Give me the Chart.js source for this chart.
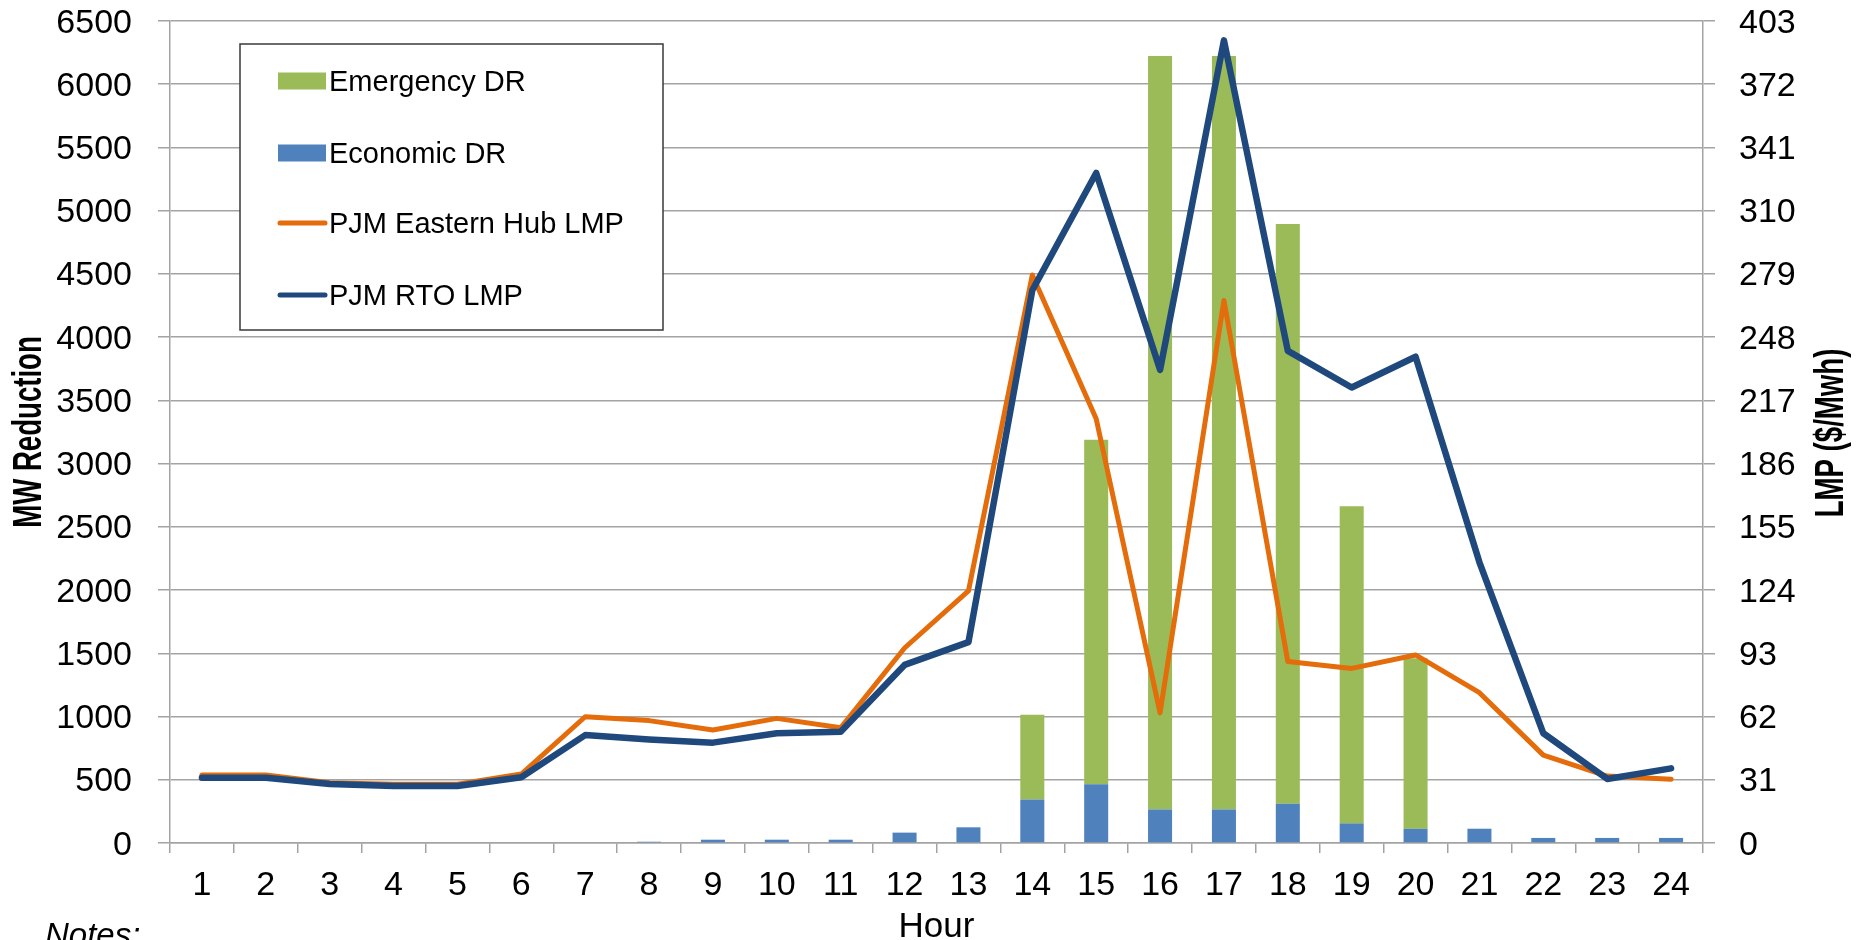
<!DOCTYPE html>
<html>
<head>
<meta charset="utf-8">
<script src="https://cdn.jsdelivr.net/npm/chart.js@4/dist/chart.umd.min.js"></script>
<style>
html,body{margin:0;padding:0;background:#ffffff;overflow:hidden}
#wrap{width:1864px;height:940px;position:relative}
</style>
</head>
<body>
<div id="wrap"><canvas id="c" width="1864" height="940"></canvas></div>
<script>
// ---- data ----
const hours = ['1','2','3','4','5','6','7','8','9','10','11','12','13','14','15','16','17','18','19','20','21','22','23','24'];
const economicDR = [0,0,0,0,0,0,0,10,26,26,26,82,124,343,464,266,266,311,155,113,113,40,40,40];
const emergencyDR = [0,0,0,0,0,0,0,0,0,0,0,0,0,672,2725,5957,5957,4584,2507,1347,0,0,0,0];
const easternHubLMP = [33.3,33.3,29.6,28.8,28.8,33.8,61.9,60.0,55.4,61.1,56.5,95.6,123.6,278.5,208,63.8,266,89.0,85.6,92.2,73.7,43.1,32.8,31.2];
const rtoLMP = [32.0,32.0,28.9,27.9,27.9,32.2,52.9,50.8,49.2,53.8,54.6,87.3,98.5,271,328.5,232,393.5,241.3,223.3,238.4,137.6,53.8,31.4,36.6];
const mwTicks = [0,500,1000,1500,2000,2500,3000,3500,4000,4500,5000,5500,6000,6500];
const lmpTicks = [0,31,62,93,124,155,186,217,248,279,310,341,372,403];

const legendOrder = ['Emergency DR','Economic DR','PJM Eastern Hub LMP','PJM RTO LMP'];

const GRID = '#a3a3a3';
const FONT = '"Liberation Sans", Arial, sans-serif';

function sText(ctx, text, x, y, font, align, baseline, sx) {
  ctx.save();
  ctx.translate(x, y);
  ctx.scale(sx, 1);
  ctx.font = font;
  ctx.textAlign = align;
  ctx.textBaseline = baseline;
  ctx.fillText(text, 0, 0);
  ctx.restore();
}

const decor = {
  id: 'decor',
  afterDraw(chart) {
    const ctx = chart.ctx;
    const a = chart.chartArea;
    ctx.save();
    ctx.fillStyle = '#000';
    const tickFont = '34px ' + FONT;
    // left tick labels
    const ys = chart.scales.y;
    mwTicks.forEach(v => {
      sText(ctx, String(v), 132, ys.getPixelForValue(v) + 11.5, tickFont, 'right', 'alphabetic', 1);
    });
    // right tick labels
    const y2 = chart.scales.y2;
    lmpTicks.forEach(v => {
      sText(ctx, String(v), 1739, y2.getPixelForValue(v) + 11.5, tickFont, 'left', 'alphabetic', 1);
    });
    // x tick labels
    const xs = chart.scales.x;
    hours.forEach((h, i) => {
      sText(ctx, h, xs.getPixelForValue(i), 895, tickFont, 'center', 'alphabetic', 1);
    });

    // rotated axis titles (condensed bold)
    function rotTitle(text, bx, cy) {
      ctx.save();
      ctx.translate(bx, cy);
      ctx.rotate(-Math.PI / 2);
      ctx.scale(0.69, 1);
      ctx.font = 'bold 40px ' + FONT;
      ctx.textAlign = 'center';
      ctx.textBaseline = 'alphabetic';
      ctx.fillText(text, 0, 0);
      ctx.restore();
    }
    rotTitle('MW Reduction', 41, 432);
    rotTitle('LMP ($/Mwh)', 1843, 433);

    // x title
    sText(ctx, 'Hour', (a.left + a.right) / 2, 937, '35px ' + FONT, 'center', 'alphabetic', 1);

    // notes
    sText(ctx, 'Notes:', 45, 946, 'italic 33px ' + FONT, 'left', 'alphabetic', 1);

    // legend
    const bx = 240, by = 44, bw = 423, bh = 286;
    ctx.fillStyle = '#ffffff';
    ctx.fillRect(bx, by, bw, bh);
    ctx.strokeStyle = '#3a3a3a';
    ctx.lineWidth = 1.5;
    ctx.strokeRect(bx, by, bw, bh);
    const rows = [81, 153, 223, 295];
    legendOrder.forEach((lab, i) => {
      const ds = chart.data.datasets.find(d => d.label === lab);
      const y = rows[i];
      if (ds.type === 'bar') {
        ctx.fillStyle = ds.backgroundColor;
        ctx.fillRect(278, y - 8.5, 48, 17);
      } else {
        ctx.strokeStyle = ds.borderColor;
        ctx.lineWidth = 5;
        ctx.lineCap = 'round';
        ctx.beginPath();
        ctx.moveTo(280, y);
        ctx.lineTo(325, y);
        ctx.stroke();
      }
      ctx.fillStyle = '#000';
      sText(ctx, lab, 329, y + 10.3, '29px ' + FONT, 'left', 'alphabetic', 1);
    });
    ctx.restore();
  }
};

new Chart(document.getElementById('c'), {
  data: {
    labels: hours,
    datasets: [
      { type: 'line', label: 'PJM RTO LMP', data: rtoLMP, yAxisID: 'y2', borderColor: '#1f497d', backgroundColor: '#1f497d', borderWidth: 6.5, pointRadius: 0, tension: 0, borderCapStyle: 'round', borderJoinStyle: 'round', order: 1 },
      { type: 'line', label: 'PJM Eastern Hub LMP', data: easternHubLMP, yAxisID: 'y2', borderColor: '#e46c0a', backgroundColor: '#e46c0a', borderWidth: 5, pointRadius: 0, tension: 0, borderCapStyle: 'round', borderJoinStyle: 'round', order: 2 },
      { type: 'bar', label: 'Economic DR', data: economicDR, yAxisID: 'y', backgroundColor: '#4f81bd', stack: 'dr', barPercentage: 0.376, categoryPercentage: 1.0, order: 3 },
      { type: 'bar', label: 'Emergency DR', data: emergencyDR, yAxisID: 'y', backgroundColor: '#9bbb59', stack: 'dr', barPercentage: 0.376, categoryPercentage: 1.0, order: 3 }
    ]
  },
  options: {
    responsive: false,
    animation: false,
    devicePixelRatio: 1,
    layout: { padding: { top: 21, left: 0, right: 0, bottom: 0 } },
    plugins: { legend: { display: false }, tooltip: { enabled: false } },
    scales: {
      x: {
        type: 'category',
        stacked: true,
        offset: true,
        grid: { offset: true, drawOnChartArea: false, drawTicks: true, tickLength: 10, color: GRID, lineWidth: 1.5 },
        border: { display: true, color: GRID, width: 1.5 },
        ticks: { display: false, autoSkip: false },
        afterFit(s) { s.height = 97; }
      },
      y: {
        position: 'left',
        stacked: true,
        min: 0, max: 6500,
        afterBuildTicks(s) { s.ticks = mwTicks.map(v => ({ value: v })); },
        grid: { drawOnChartArea: true, drawTicks: true, tickLength: 12, color: GRID, lineWidth: 1.5 },
        border: { display: true, color: GRID, width: 1.5 },
        ticks: { display: false },
        afterFit(s) { s.width = 170; }
      },
      y2: {
        position: 'right',
        min: 0, max: 403,
        afterBuildTicks(s) { s.ticks = lmpTicks.map(v => ({ value: v })); },
        grid: { drawOnChartArea: false, drawTicks: true, tickLength: 12, color: GRID, lineWidth: 1.5 },
        border: { display: true, color: GRID, width: 1.5 },
        ticks: { display: false },
        afterFit(s) { s.width = 161; }
      }
    }
  },
  plugins: [decor]
});
</script>
</body>
</html>
